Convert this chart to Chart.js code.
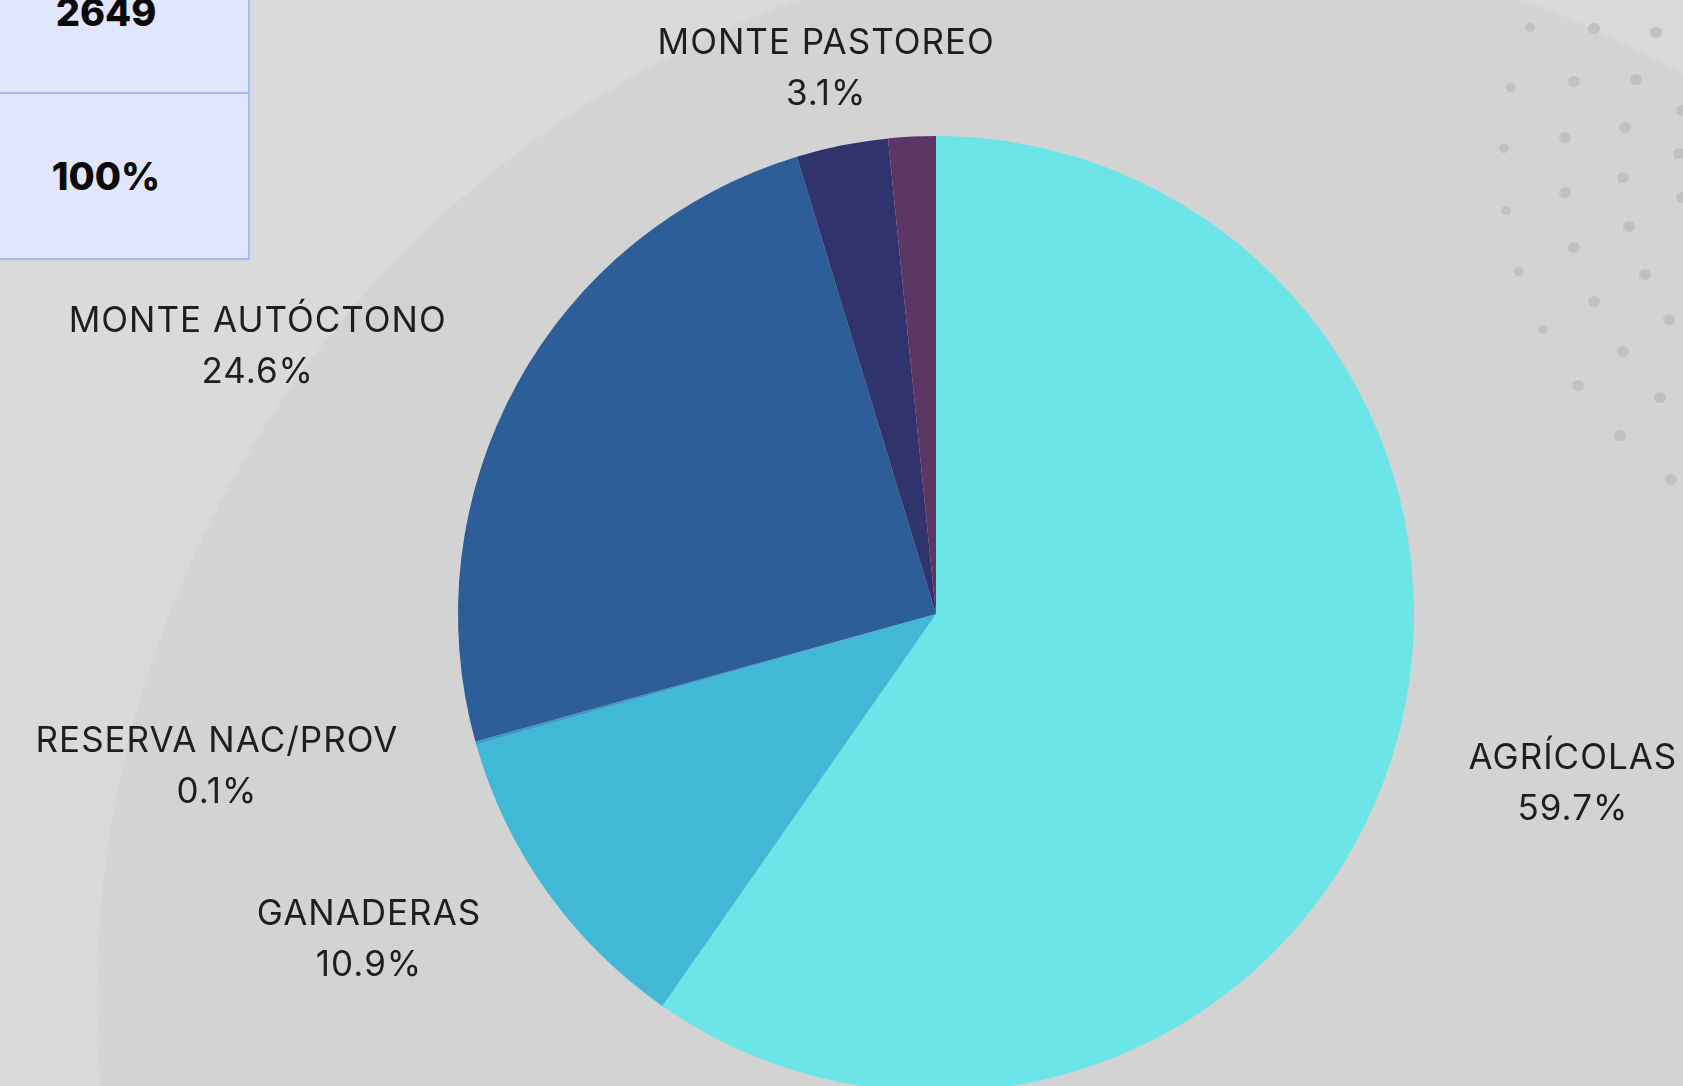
<!DOCTYPE html>
<html lang="es">
<head>
<meta charset="utf-8">
<title>Superficie por uso</title>
<script src="https://cdn.jsdelivr.net/npm/chart.js@4"></script>
<style>
  html, body {
    margin: 0;
    padding: 0;
    width: 1683px;
    height: 1086px;
    overflow: hidden;
  }
  body {
    position: relative;
    background: radial-gradient(circle 1065px at 1160px 1000px, #d3d3d3 0, #d3d3d3 99.7%, #dadada 100%);
    font-family: Inter, "Noto Sans", sans-serif;
  }
  #dots {
    position: absolute;
    left: 1490px;
    top: 0;
    width: 193px;
    height: 500px;
  }
  .dot {
    position: absolute;
    width: 12px;
    height: 11px;
    border-radius: 50%;
    background: #c1c1c1;
  }
  .dot.sm { width: 10px; height: 9px; }
  table.total {
    position: absolute;
    left: -36px;
    top: -70px;
    border-collapse: collapse;
    background: #e2e6fc;
  }
  table.total td {
    width: 284px;
    text-align: center;
    border: 2px solid #aab8f6;
    border-left: none;
    font-family: Inter, sans-serif;
    font-weight: 800;
    font-size: 38px;
    color: #0a0a0a;
    padding: 0;
  }
  table.total tr.r1 td { height: 162px; vertical-align: bottom; padding-bottom: 57px; box-sizing: border-box; }
  table.total tr.r2 td { height: 164px; }
  #chart {
    position: absolute;
    left: 0;
    top: 0;
  }
</style>
</head>
<body>
<table class="total">
  <tr class="r1"><td>2649</td></tr>
  <tr class="r2"><td>100%</td></tr>
</table>
<div id="dots"></div>
<canvas id="chart" width="1683" height="1228"></canvas>
<script>
// datos del gráfico
const categorias = ['AGRÍCOLAS', 'GANADERAS', 'RESERVA NAC/PROV', 'MONTE AUTÓCTONO', 'MONTE PASTOREO', 'OTROS'];
const porcentajes = [59.7, 10.9, 0.1, 24.6, 3.1, 1.6];
const colores = ['#6ce5e8', '#41b8d5', '#3a9ccb', '#2e5e98', '#31346c', '#5c3665'];
const etiquetasVisibles = [true, true, true, true, true, false];

// puntos decorativos (esquina superior derecha)
const puntosDeco = [
  [41, 28], [104, 28], [166, 32], [22, 88], [84, 81], [146, 79], [192, 110],
  [135, 127], [75, 137], [15, 149], [189, 153], [133, 177], [75, 192], [17, 211],
  [192, 197], [139, 226], [84, 247], [30, 272], [155, 274], [104, 301], [54, 330],
  [179, 319], [133, 351], [88, 385], [170, 397], [130, 435], [181, 479]
];
const dotsBox = document.getElementById('dots');
puntosDeco.forEach(p => {
  const d = document.createElement('div');
  d.className = 'dot' + (p[0] < 60 ? ' sm' : '');
  d.style.left = (p[0] - 6) + 'px';
  d.style.top = (p[1] - 5) + 'px';
  dotsBox.appendChild(d);
});

// etiquetas fuera de la torta: nombre + porcentaje
const etiquetasExternas = {
  id: 'etiquetasExternas',
  afterDatasetsDraw(chart) {
    const ctx = chart.ctx;
    const meta = chart.getDatasetMeta(0);
    const datos = chart.data.datasets[0].data;
    const total = datos.reduce((a, b) => a + b, 0);
    ctx.save();
    ctx.fillStyle = '#1e1e1e';
    ctx.font = '400 35px Inter, "Noto Sans", sans-serif';
    ctx.letterSpacing = '1px';
    ctx.textBaseline = 'alphabetic';
    meta.data.forEach((arc, i) => {
      if (!etiquetasVisibles[i]) return;
      const p = arc.getProps(['x', 'y', 'startAngle', 'endAngle', 'outerRadius'], true);
      const mid = (p.startAngle + p.endAngle) / 2;
      const r = p.outerRadius * 1.168;
      const ax = p.x + Math.cos(mid) * r;
      const ay = p.y + Math.sin(mid) * r;
      const c = Math.cos(mid);
      let align = 'center';
      if (c > 0.5) align = 'left';
      else if (c < -0.5) align = 'right';
      const l1 = chart.data.labels[i];
      const l2 = (datos[i] / total * 100).toFixed(1) + '%';
      const w1 = ctx.measureText(l1).width;
      // el porcentaje va centrado bajo el nombre
      let cx = ax;
      if (align === 'left') cx = ax + w1 / 2;
      if (align === 'right') cx = ax - w1 / 2;
      ctx.textAlign = 'center';
      ctx.fillText(l1, cx, ay - 13);
      ctx.fillText(l2, cx, ay + 38);
    });
    ctx.restore();
  }
};

const config = {
  type: 'pie',
  data: {
    labels: categorias,
    datasets: [{
      data: porcentajes,
      backgroundColor: colores,
      borderWidth: 0,
      hoverOffset: 0
    }]
  },
  options: {
    responsive: false,
    animation: false,
    rotation: 0,
    layout: {
      padding: { left: 458, right: 269, top: 136, bottom: 136 }
    },
    plugins: {
      legend: { display: false },
      tooltip: { enabled: false }
    }
  },
  plugins: [etiquetasExternas]
};

new Chart(document.getElementById('chart'), config);
</script>
</body>
</html>
